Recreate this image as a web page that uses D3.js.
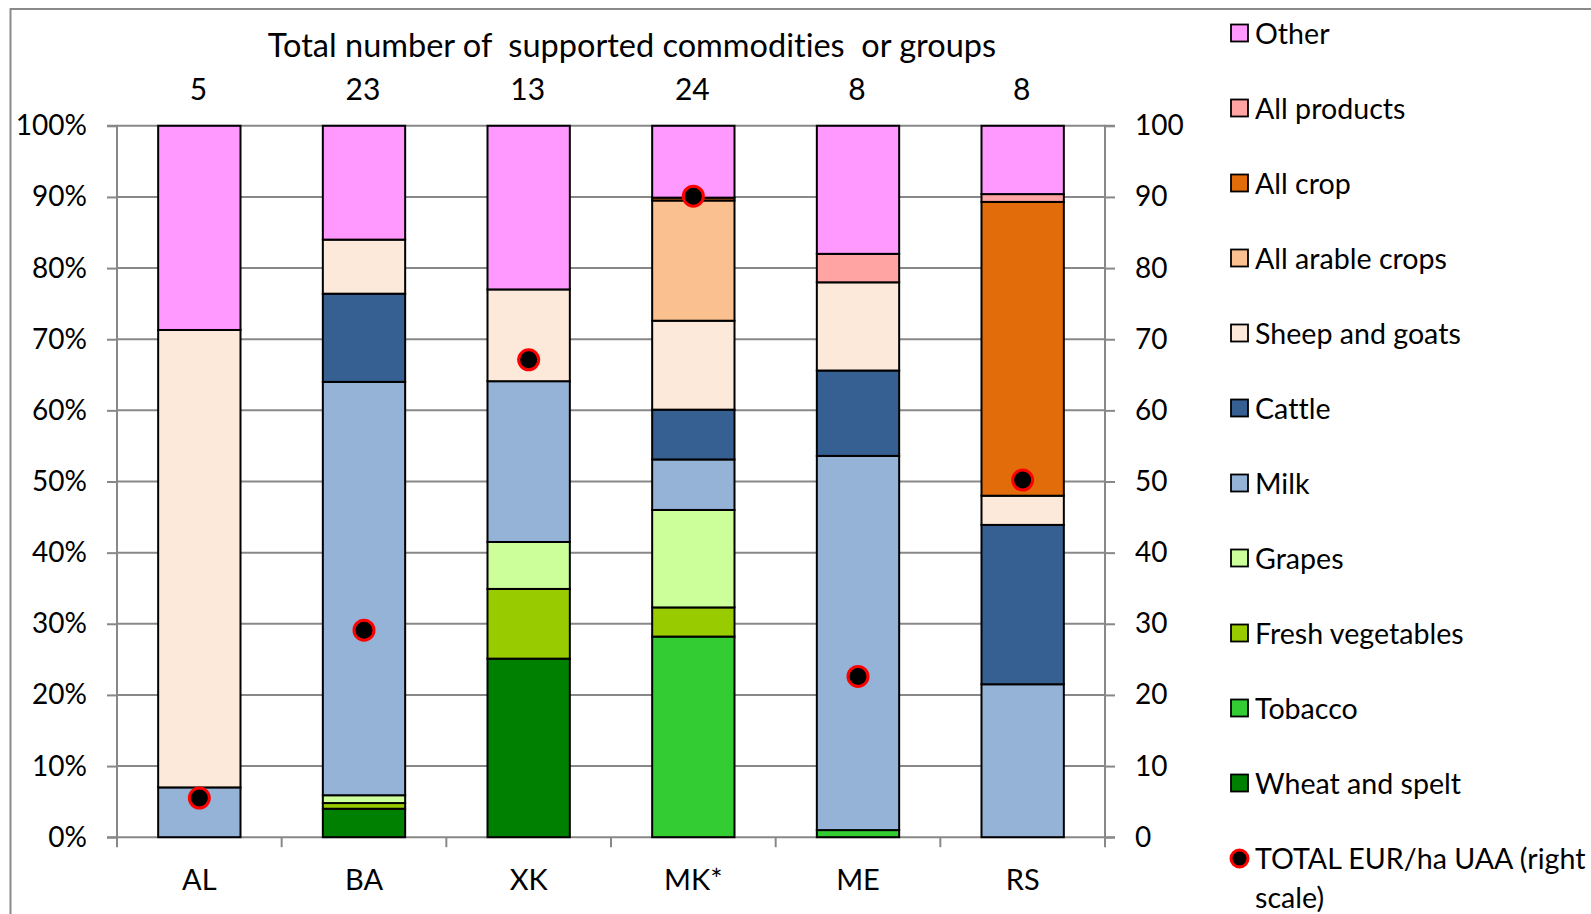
<!DOCTYPE html>
<html>
<head>
<meta charset="utf-8">
<script src="https://cdn.jsdelivr.net/npm/d3@7"></script>
<style>
  html, body { margin: 0; padding: 0; background: #fff; }
  svg text { font-family: Lato, "Open Sans", sans-serif; fill: #000; white-space: pre; font-variant-ligatures: none; font-feature-settings: "liga" 0; }
</style>
</head>
<body>
<svg id="chart" width="1591" height="914"></svg>
<script>
// ---- Data ----
const categories = ["AL", "BA", "XK", "MK*", "ME", "RS"];
const totalCommodities = [5, 23, 13, 24, 8, 8];

const wheatAndSpelt    = [0,    4.0, 25.1, 0,    0,    0];
const tobacco          = [0,    0,    0,   28.2, 1.0,  0];
const freshVegetables  = [0,    0.8,  9.8,  4.1, 0,    0];
const grapes           = [0,    1.1,  6.6, 13.7, 0,    0];
const milk             = [7.0, 58.1, 22.6,  7.1, 52.6, 21.5];
const cattle           = [0,   12.4,  0,    7.0, 12.0, 22.4];
const sheepAndGoats    = [64.3, 7.6, 12.9, 12.5, 12.4, 4.1];
const allArableCrops   = [0,    0,    0,   16.9, 0,    0];
const allCrop          = [0,    0,    0,    0.4, 0,   41.3];
const allProducts      = [0,    0,    0,    0,   4.0,  1.1];
const other            = [28.7, 16.0, 23.0, 10.1, 18.0, 9.6];

const totalEurHa       = [5.5, 29.1, 67.1, 90.1, 22.6, 50.2];

const leftTicks  = [0,10,20,30,40,50,60,70,80,90,100];
const rightTicks = [0,10,20,30,40,50,60,70,80,90,100];

// series in stacking order (bottom -> top)
const seriesNames = ["Wheat and spelt","Tobacco","Fresh vegetables","Grapes","Milk","Cattle",
  "Sheep and goats","All arable crops","All crop","All products","Other"];
const seriesValues = [wheatAndSpelt, tobacco, freshVegetables, grapes, milk, cattle,
  sheepAndGoats, allArableCrops, allCrop, allProducts, other];
const seriesColors = ["#008000","#33CC33","#99CC00","#CCFF99","#95B3D7","#366092",
  "#FDE9D9","#FAC090","#E36C0A","#FFA3A3","#FF99FF"];

// ---- Build table ----
const table = categories.map((c, i) => {
  const row = { cat: c };
  seriesNames.forEach((s, k) => row[s] = seriesValues[k][i]);
  return row;
});

const svg = d3.select("#chart");
const L = 117, R = 1105, T = 125.8, B = 837.2;

// outer frame
svg.append("rect").attr("x", 10.5).attr("y", 9).attr("width", 1640).attr("height", 1000)
  .attr("fill", "none").attr("stroke", "#8a8a8a").attr("stroke-width", 2);

const x = d3.scaleBand().domain(categories).range([L, R]).paddingInner(0.5).paddingOuter(0.25);
const y = d3.scaleLinear().domain([0, 100]).range([B, T]);
const y2 = d3.scaleLinear().domain([0, 100]).range([B, T]);

const gridColor = "#888888";

// gridlines
svg.append("g").selectAll("line").data(leftTicks.filter(d => d > 0)).join("line")
  .attr("x1", L).attr("x2", R).attr("y1", d => y(d)).attr("y2", d => y(d))
  .attr("stroke", gridColor).attr("stroke-width", 2);

// left axis
const leftAxis = svg.append("g").attr("transform", `translate(${L},0)`)
  .call(d3.axisLeft(y).tickValues(leftTicks).tickFormat(d => d + "%").tickSize(10).tickPadding(20));
// right axis
const rightAxis = svg.append("g").attr("transform", `translate(${R},0)`)
  .call(d3.axisRight(y2).tickValues(rightTicks).tickFormat(d => d).tickSize(10).tickPadding(20));
// bottom axis
const bandEdges = categories.map(c => x(c) - x.step() * x.paddingInner() / 2).concat([R]);
bandEdges[0] = L;
const bottomAxis = svg.append("g").attr("transform", `translate(0,${B})`)
  .call(d3.axisBottom(x).tickSize(0).tickPadding(32));
svg.append("g").selectAll("line").data(bandEdges).join("line")
  .attr("x1", d => d).attr("x2", d => d).attr("y1", B).attr("y2", B + 10)
  .attr("stroke", gridColor).attr("stroke-width", 2);

[leftAxis, rightAxis, bottomAxis].forEach(g => {
  g.selectAll("path.domain").attr("stroke", gridColor).attr("stroke-width", 2);
  g.selectAll(".tick line").attr("stroke", gridColor).attr("stroke-width", 2);
  g.selectAll("text").attr("font-size", 28).attr("font-family", "Lato, 'Open Sans', sans-serif").attr("fill", "#000");
});
bottomAxis.selectAll("text").attr("font-size", 29);
leftAxis.select("path.domain").attr("d", `M-10,${B}H0V${T}H-10`);
rightAxis.select("path.domain").attr("d", `M10,${B}H0V${T}H10`);
bottomAxis.select("path.domain").attr("d", `M${L},0H${R}`);

// stacked bars
const stack = d3.stack().keys(seriesNames);
const stacked = stack(table);
const layers = svg.append("g").selectAll("g").data(stacked).join("g")
  .attr("fill", (d, i) => seriesColors[i]);
layers.selectAll("rect").data(d => d.filter(s => s[1] - s[0] > 0)).join("rect")
  .attr("x", d => x(d.data.cat))
  .attr("width", x.bandwidth())
  .attr("y", d => y(d[1]))
  .attr("height", d => y(d[0]) - y(d[1]))
  .attr("stroke", "#000").attr("stroke-width", 2);

// total EUR/ha points
svg.append("g").selectAll("circle").data(categories).join("circle")
  .attr("cx", d => x(d) + x.bandwidth() / 2)
  .attr("cy", (d, i) => y2(totalEurHa[i]))
  .attr("r", 10)
  .attr("fill", "#000").attr("stroke", "#FF0000").attr("stroke-width", 3);

// title and counts
svg.append("text").attr("x", 632).attr("y", 57).attr("text-anchor", "middle")
  .attr("font-size", 32.5).text("Total number of  supported commodities  or groups");
svg.append("g").selectAll("text").data(categories).join("text")
  .attr("x", d => x(d) + x.bandwidth() / 2 - 1)
  .attr("y", 100).attr("text-anchor", "middle").attr("font-size", 30)
  .text((d, i) => totalCommodities[i]);

// legend
const legendNames = seriesNames.slice().reverse();
const legendColors = seriesColors.slice().reverse();
const lg = svg.append("g");
const rowY = i => 33.5 + i * 75;
legendNames.forEach((n, i) => {
  lg.append("rect").attr("x", 1231).attr("y", rowY(i) - 9).attr("width", 17).attr("height", 17)
    .attr("fill", legendColors[i]).attr("stroke", "#000").attr("stroke-width", 1.8);
  lg.append("text").attr("x", 1255).attr("y", rowY(i)).attr("dy", "0.35em")
    .attr("font-size", 28.6).text(n);
});
const iT = legendNames.length;
lg.append("circle").attr("cx", 1239.5).attr("cy", rowY(iT)).attr("r", 8.5)
  .attr("fill", "#000").attr("stroke", "#FF0000").attr("stroke-width", 3);
lg.append("text").attr("x", 1255).attr("y", rowY(iT)).attr("dy", "0.35em")
  .attr("font-size", 28.6).text("TOTAL EUR/ha UAA (right");
lg.append("text").attr("x", 1255).attr("y", rowY(iT) + 39).attr("dy", "0.35em")
  .attr("font-size", 28.6).text("scale)");
</script>
</body>
</html>
